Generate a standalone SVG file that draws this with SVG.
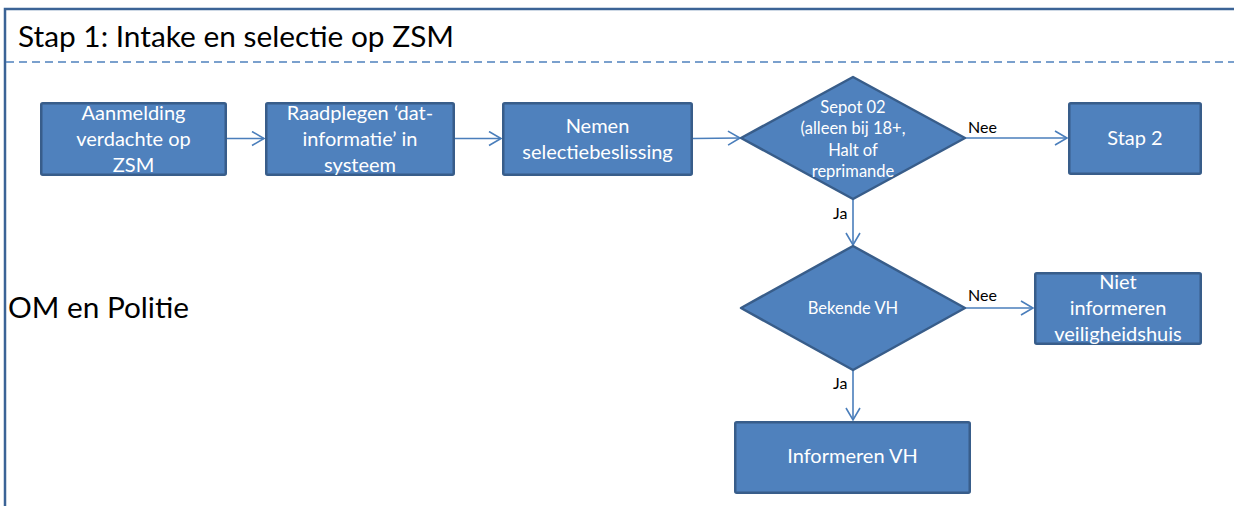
<svg xmlns="http://www.w3.org/2000/svg" width="1234" height="506" viewBox="0 0 1234 506">
<style>
.frame{fill:none;stroke:#3b6396;stroke-width:2.5}
.sep{stroke:#4f81bd;stroke-width:1.5;stroke-dasharray:8 5;fill:none}
.node{fill:#4f81bd;stroke:#385d8a;stroke-width:2.5;stroke-linejoin:round}
.t{font-family:Lato,"Open Sans","Liberation Sans",sans-serif;fill:#ffffff;text-anchor:middle}
.big{font-size:20px}
.dia{font-size:16.5px}
.lbl{font-family:Lato,"Open Sans","Liberation Sans",sans-serif;font-size:16px;fill:#000000}
.head{font-family:Lato,"Open Sans","Liberation Sans",sans-serif;font-size:29px;fill:#000000}
.conn line{stroke:#4a7ebb;stroke-width:1.6;fill:none}
</style>
<defs>
<marker id="arr" markerUnits="userSpaceOnUse" markerWidth="16" markerHeight="18" refX="13" refY="8" orient="auto">
<path d="M1,1 L13,8 L1,15" fill="none" stroke="#4a7ebb" stroke-width="1.6"/>
</marker>
</defs>
<rect width="1234" height="506" fill="#ffffff"/>
<g id="frame">
<rect class="frame" x="5" y="9" width="1260" height="530"/>
<line class="sep" x1="6" y1="62" x2="1234" y2="62"/>
<text class="head" x="18" y="47" textLength="436" lengthAdjust="spacingAndGlyphs">Stap 1: Intake en selectie op ZSM</text>
<text class="head" x="8" y="318" textLength="181" lengthAdjust="spacingAndGlyphs">OM en Politie</text>
</g>
<g id="connectors" class="conn">
<line x1="227" y1="138.5" x2="264" y2="138.5" marker-end="url(#arr)"/>
<line x1="455" y1="138.5" x2="501" y2="138.5" marker-end="url(#arr)"/>
<line x1="693" y1="138.5" x2="740" y2="138" marker-end="url(#arr)"/>
<line x1="965" y1="138" x2="1067" y2="138" marker-end="url(#arr)"/>
<line x1="853" y1="199" x2="853" y2="245" marker-end="url(#arr)"/>
<line x1="965" y1="308" x2="1033" y2="308" marker-end="url(#arr)"/>
<line x1="853" y1="370" x2="853" y2="420" marker-end="url(#arr)"/>
<text class="lbl" x="968" y="133">Nee</text>
<text class="lbl" x="833" y="219">Ja</text>
<text class="lbl" x="968" y="301">Nee</text>
<text class="lbl" x="833" y="389">Ja</text>
</g>
<g id="n1">
<rect class="node" x="41.25" y="103.25" width="184.5" height="71.5" rx="1.5"/>
<text class="t big" x="133.5" y="120">Aanmelding</text>
<text class="t big" x="133.5" y="145.5">verdachte op</text>
<text class="t big" x="133.5" y="171.5">ZSM</text>
</g>
<g id="n2">
<rect class="node" x="266.25" y="103.25" width="187.5" height="71.5" rx="1.5"/>
<text class="t big" x="360" y="120">Raadplegen ‘dat-</text>
<text class="t big" x="360" y="145.5">informatie’ in</text>
<text class="t big" x="360" y="171.5">systeem</text>
</g>
<g id="n3">
<rect class="node" x="503.25" y="103.25" width="188.5" height="71.5" rx="1.5"/>
<text class="t big" x="597.5" y="133">Nemen</text>
<text class="t big" x="597.5" y="158.5">selectiebeslissing</text>
</g>
<g id="d1">
<polygon class="node" points="741,138 853,77 965,138 853,199"/>
<text class="t dia" x="853" y="112.5">Sepot 02</text>
<text class="t dia" x="853" y="134">(alleen bij 18+,</text>
<text class="t dia" x="853" y="155.5">Halt of</text>
<text class="t dia" x="853" y="177">reprimande</text>
</g>
<g id="n4">
<rect class="node" x="1069.25" y="103.25" width="131.5" height="70.5" rx="1.5"/>
<text class="t big" x="1135" y="145">Stap 2</text>
</g>
<g id="d2">
<polygon class="node" points="741,308 853,246 965,308 853,370"/>
<text class="t dia" x="853" y="314">Bekende VH</text>
</g>
<g id="n5">
<rect class="node" x="1035.25" y="273.25" width="165.5" height="70.5" rx="1.5"/>
<text class="t big" x="1118" y="288.5">Niet</text>
<text class="t big" x="1118" y="315">informeren</text>
<text class="t big" x="1118" y="340.5">veiligheidshuis</text>
</g>
<g id="n6">
<rect class="node" x="735.25" y="422.25" width="234.5" height="70.5" rx="1.5"/>
<text class="t big" x="852.5" y="463">Informeren VH</text>
</g>
</svg>
